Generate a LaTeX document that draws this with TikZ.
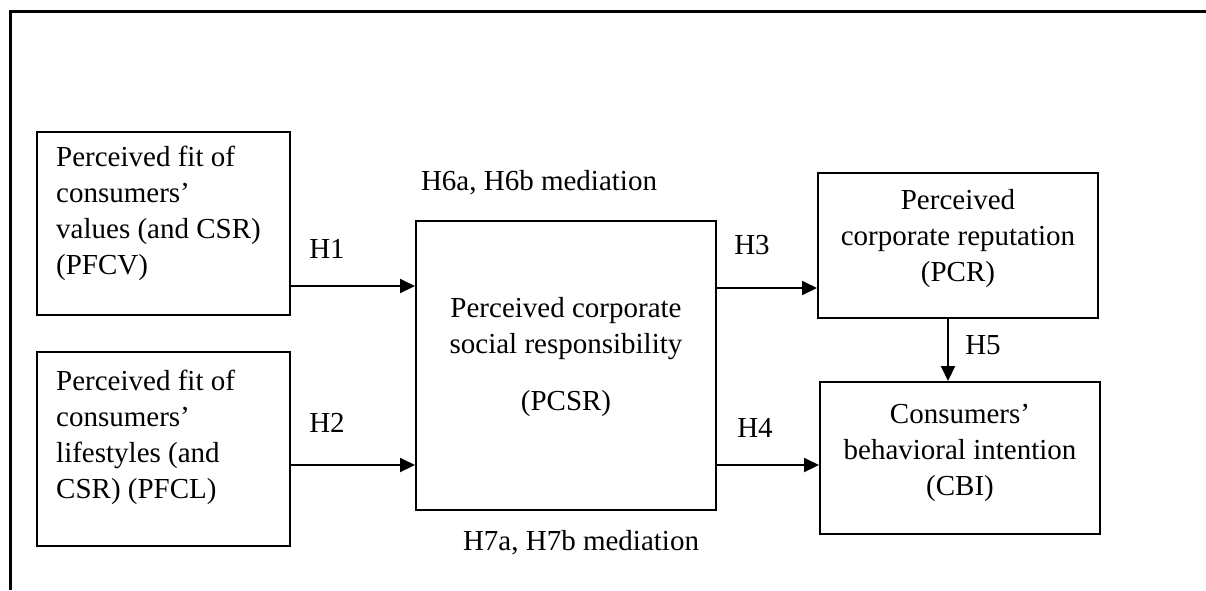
\documentclass[tikz,border=0pt]{standalone}
\usepackage{fontspec}
\setmainfont{Liberation Serif}
\usetikzlibrary{arrows.meta}
\tikzset{
	box/.style={draw, line width=2pt, inner sep=0pt},
	txt/.style={inner sep=0pt, font=\fontsize{29}{36}\selectfont},
	arr/.style={line width=2pt, -{Triangle[length=15pt,width=14pt]}},
	frame/.style={line width=3pt}
}
\begin{document}
\begin{tikzpicture}[x=1pt,y=-1pt]
\useasboundingbox (0,0) rectangle (1206,590);
\draw[frame] (10,590) -- (10,11) -- (1206,11);

% boxes
\node[box, minimum width=253pt, minimum height=183pt] (pfcv) at (163.5,223.5) {};
\node[box, minimum width=253pt, minimum height=194pt] (pfcl) at (163.5,449) {};
\node[box, minimum width=300pt, minimum height=289pt] (pcsr) at (566,365.5) {};
\node[box, minimum width=280pt, minimum height=145pt] (pcr) at (958,245.5) {};
\node[box, minimum width=280pt, minimum height=152pt] (cbi) at (960,458) {};

% box texts
\node[txt, align=left, anchor=west] (pfcvtext) at ([xshift=20pt,yshift=10pt]pfcv.west) {Perceived fit of\\consumers'\\values (and CSR)\\(PFCV)};
\node[txt, align=left, anchor=west] (pfcltext) at ([xshift=20pt,yshift=12pt]pfcl.west) {Perceived fit of\\consumers'\\lifestyles (and\\CSR) (PFCL)};
\node[txt, align=center] (pcsrtext) at ([yshift=8pt]pcsr.center) {Perceived corporate\\social responsibility\\[21pt](PCSR)};
\node[txt, align=center] (pcrtext) at ([yshift=7pt]pcr.center) {Perceived\\corporate reputation\\(PCR)};
\node[txt, align=center] (cbitext) at ([yshift=5pt]cbi.center) {Consumers'\\behavioral intention\\(CBI)};

% arrows
\coordinate (r1) at (0,286);
\coordinate (r2) at (0,465);
\coordinate (r3) at (0,288);
\coordinate (c5) at (948,0);
\draw[arr] (pfcv.east |- r1) -- (pcsr.west |- r1);
\draw[arr] (pfcl.east |- r2) -- (pcsr.west |- r2);
\draw[arr] (pcsr.east |- r3) -- (pcr.west |- r3);
\draw[arr] (pcsr.east |- r2) -- (cbi.west |- r2);
\draw[arr] (pcr.south -| c5) -- (cbi.north -| c5);

% labels
\node[txt] (h1) at (327,249) {H1};
\node[txt] (h2) at (327,423) {H2};
\node[txt] (h3) at (752,245) {H3};
\node[txt] (h4) at (755,428) {H4};
\node[txt] (h5) at (983,345) {H5};
\node[txt] (h6) at (539,183) {H6a, H6b mediation};
\node[txt] (h7) at (581,543) {H7a, H7b mediation};
\end{tikzpicture}
\end{document}
